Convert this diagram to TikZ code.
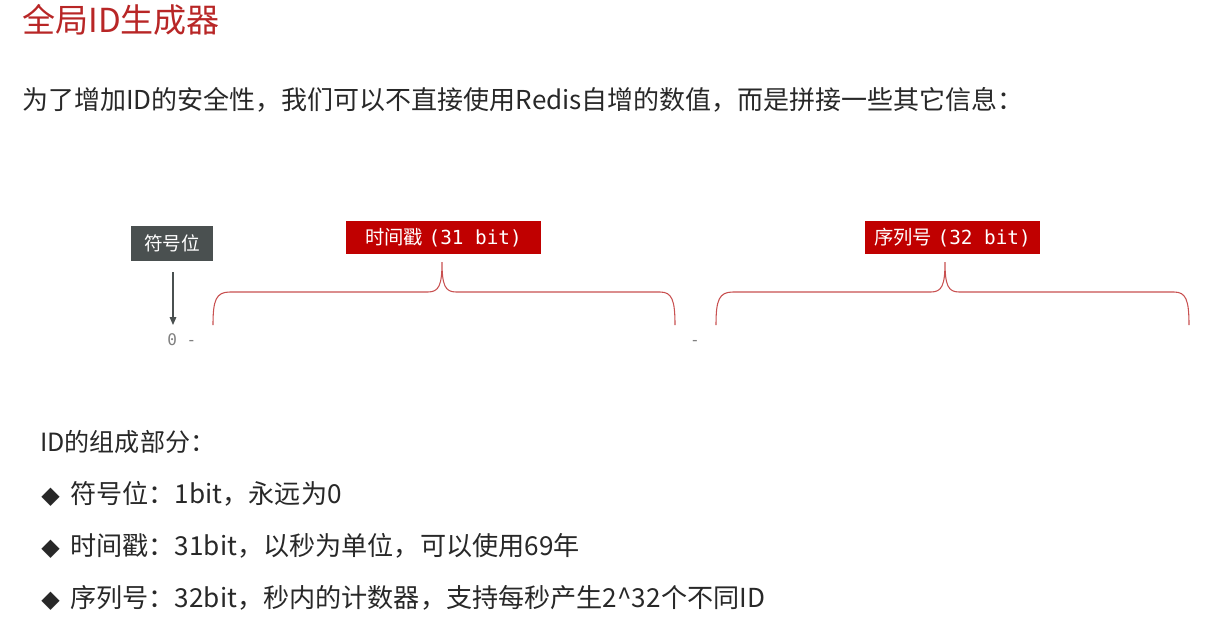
\documentclass[tikz,border=0pt]{standalone}
\usepackage{fontspec}
\setmainfont{Noto Sans CJK SC}
\newfontfamily\monofont{DejaVu Sans Mono}
\newfontfamily\symfont{DejaVu Sans}
\definecolor{titleRed}{RGB}{184,38,38}
\definecolor{boxRed}{RGB}{192,0,0}
\definecolor{boxGray}{RGB}{74,80,80}
\definecolor{braceRed}{RGB}{200,80,80}
\definecolor{textGray}{RGB}{40,40,40}
\usetikzlibrary{arrows.meta}

\begin{document}
\begin{tikzpicture}[
  x=0.75pt, y=-0.75pt,
  txt/.style={anchor=west, inner sep=0pt, text=textGray, font=\fontsize{19.6}{23}\selectfont},
  tag/.style={
    fill=boxRed, text=white, inner sep=0pt, minimum height=25pt,
    font=\fontsize{14.5}{17}\selectfont
  },
  brc/.style={draw=braceRed, line width=0.8pt},
  arr/.style={-{Triangle[length=6pt,width=5pt]}, draw=boxGray, line width=0.8pt}
]
  \useasboundingbox (0,0) rectangle (1232,643);
  \node[anchor=west, inner sep=0pt, text=titleRed, font=\fontsize{24.8}{28}\selectfont] (title) at (22,20) {全局ID生成器};
  \node[txt, font=\fontsize{19.5}{23}\selectfont] (intro) at (22,100) {为了增加ID的安全性，我们可以不直接使用Redis自增的数值，而是拼接一些其它信息：};

  \node[fill=boxGray, text=white, inner sep=0pt, minimum width=61.5pt, minimum height=26pt,
    font=\fontsize{14}{16}\selectfont] (sign) at (172,243.5) {符号位};
  \node[tag, minimum width=146pt] (time) at (443.5,237.5) {时间戳\hspace{4pt}{\monofont(31 bit)}};
  \node[tag, minimum width=131pt] (seq) at (952.5,237.5) {序列号\hspace{4pt}{\monofont(32 bit)}};

  \coordinate (signend) at (173,325);
  \draw[arr] (173,272) -- (signend);
  \node[anchor=west, inner sep=0pt, text=gray, font=\monofont\fontsize{12}{14}\selectfont] (zero) at (167,340) {0 -};
  \node[inner sep=0pt, text=gray, font=\monofont\fontsize{12}{14}\selectfont] (dash) at (695,343) {-};

  % braces under the tags
  \draw[brc] (213,325) .. controls (213,300) and (216,292) .. (230,292) -- (428,292)
    .. controls (439,292) and (442,285) .. (442,262)
    .. controls (442,285) and (445,292) .. (456,292) -- (660,292)
    .. controls (672,292) and (675,300) .. (675,325);
  \draw[brc] (716,325) .. controls (716,300) and (719,292) .. (733,292) -- (931,292)
    .. controls (942,292) and (945,285) .. (945,262)
    .. controls (945,285) and (948,292) .. (959,292) -- (1174,292)
    .. controls (1186,292) and (1189,300) .. (1189,325);

  \node[txt, font=\fontsize{18.8}{22}\selectfont] (parts) at (40,442) {ID的组成部分：};
  \node[txt] (b1) at (41,494) {{\symfont\fontsize{18}{20}\selectfont ◆}\hspace{8pt}符号位：1bit，永远为0};
  \node[txt] (b2) at (41,546) {{\symfont\fontsize{18}{20}\selectfont ◆}\hspace{8pt}时间戳：31bit，以秒为单位，可以使用69年};
  \node[txt] (b3) at (41,598) {{\symfont\fontsize{18}{20}\selectfont ◆}\hspace{8pt}序列号：32bit，秒内的计数器，支持每秒产生2\^{}32个不同ID};
\end{tikzpicture}
\end{document}
